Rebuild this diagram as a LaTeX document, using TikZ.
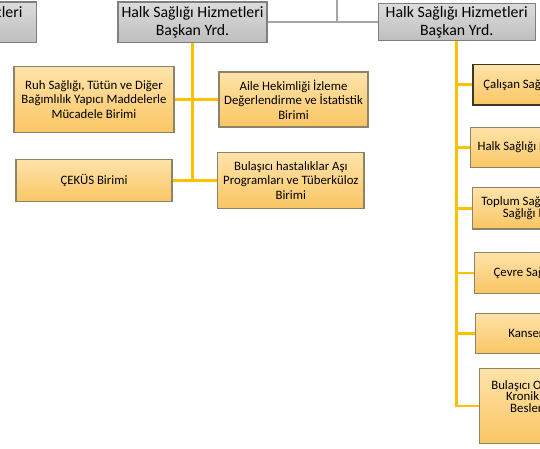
\documentclass[tikz,border=0pt]{standalone}
\usepackage{fontspec}
\setmainfont{Carlito}
\usetikzlibrary{calc}
\definecolor{grtop}{HTML}{DCDCDC}
\definecolor{grbot}{HTML}{BEBEBE}
\definecolor{grborder}{HTML}{7F7F7F}
\definecolor{gconn}{HTML}{A6A6A6}
\definecolor{ytop}{HTML}{FFE3AA}
\definecolor{ybot}{HTML}{F9C664}
\definecolor{yborder}{HTML}{8C836A}
\definecolor{ydark}{HTML}{3F3626}
\definecolor{yconn}{HTML}{FFC000}

\begin{document}
\begin{tikzpicture}[x=1pt, y=-1pt,
  grbox/.style={draw=grborder, line width=1.2pt, top color=grtop, bottom color=grbot, font=\fontsize{15.8}{17.3}\selectfont, align=center, inner ysep=0pt, minimum height=40.7pt},
  birim/.style={draw=yborder, line width=1.2pt, top color=ytop, bottom color=ybot, font=\fontsize{12.8}{14.3}\selectfont, align=center, inner ysep=0pt},
  yline/.style={draw=yconn, line width=2.6pt},
  gline/.style={draw=gconn, line width=2pt}]
  \useasboundingbox (0,0) rectangle (540,448);
  \clip (0,0) rectangle (540,448);

  % baskan yardimcilari
  \node[grbox, anchor=east, inner xsep=14pt] (kamu) at (37,22.3) {Kamu Hastane Hizmetleri\\Başkan Yrd.};
  \node[grbox, minimum width=149pt] (halkA) at (192.5,22.3) {Halk Sağlığı Hizmetleri\\Başkan Yrd.};
  \node[grbox, minimum width=157pt, minimum height=37pt] (halkB) at (456.7,22.3) {Halk Sağlığı Hizmetleri\\Başkan Yrd.};

  % birinci yardimcinin birimleri
  \node[birim, minimum width=160pt, minimum height=66pt] (ruh) at (94,99.5) {Ruh Sağlığı, Tütün ve Diğer\\Bağımlılık Yapıcı Maddelerle\\Mücadele Birimi};
  \node[birim, minimum width=149pt, minimum height=55pt] (aile) at (293.5,99.5) {Aile Hekimliği İzleme\\Değerlendirme ve İstatistik\\Birimi};
  \node[birim, minimum width=156pt, minimum height=41.7pt] (cekus) at (94,180.3) {ÇEKÜS Birimi};
  \node[birim, minimum width=146.3pt, minimum height=55.6pt] (bulas) at (290.8,180.3) {Bulaşıcı hastalıklar Aşı\\Programları ve Tüberküloz\\Birimi};

  % ikinci yardimcinin birimleri
  \node[birim, anchor=west, inner xsep=10.4pt, minimum height=40.7pt, draw=ydark] (calisan) at (472.3,84.7) {Çalışan Sağlığı Birimi};
  \node[birim, anchor=west, inner xsep=7pt, minimum height=40.4pt] (lab) at (470,147.5) {Halk Sağlığı Laboratuvarı Birimi};
  \node[birim, anchor=west, inner xsep=9pt, minimum height=41.3pt, font=\fontsize{12.8}{12.4}\selectfont] (toplum) at (471.7,208.3) {Toplum Sağlığı ve Ağız Diş\\Sağlığı Hizmetleri};
  \node[birim, anchor=west, inner xsep=19pt, minimum height=41pt] (cevre) at (474,272.8) {Çevre Sağlığı Birimi};
  \node[birim, anchor=west, inner xsep=32.7pt, minimum height=40pt] (kanser) at (475,333.3) {Kanser Birimi};
  \node[birim, anchor=west, inner xsep=11.7pt, minimum height=74.3pt, font=\fontsize{12.8}{11.6}\selectfont] (boh) at (479,406) {Bulaşıcı Olmayan Hastalıklar,\\Kronik Hastalıklar, Yaşlı\\Beslenme ve Hareket\\[8pt]\mbox{}};

  % baglantilar
  \coordinate (ust) at (337,0);
  \draw[gline] (ust) -- (ust |- halkA.east);
  \draw[gline] (halkA.east) -- (halkB.west);
  \draw[yline] (halkA.south) -- (halkA.south |- cekus.east);
  \draw[yline] (ruh.east) -- (aile.west);
  \draw[yline] (cekus.east) -- (bulas.west);
  \draw[yline] (halkB.south) |- (boh.west);
  \foreach \b in {calisan,lab,toplum,cevre,kanser}
    \draw[yline] (halkB.south |- \b.west) -- (\b.west);
\end{tikzpicture}
\end{document}
